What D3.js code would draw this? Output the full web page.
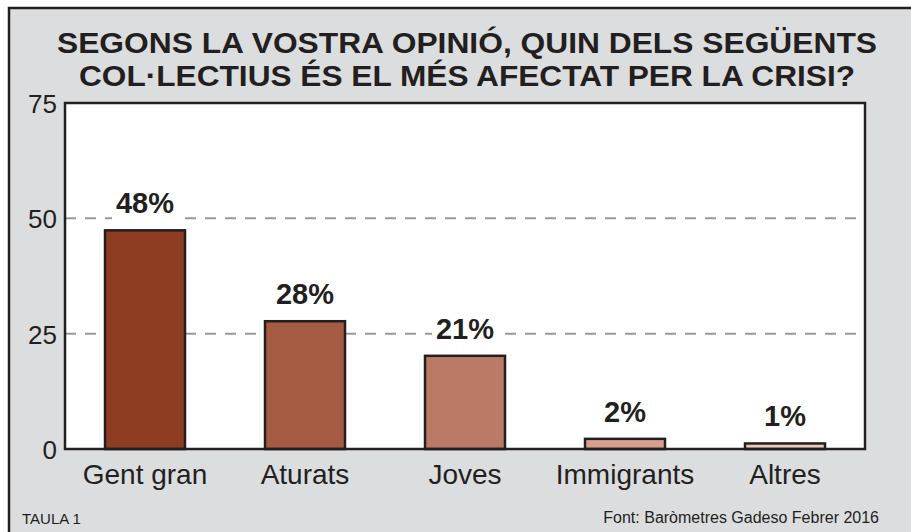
<!DOCTYPE html>
<html>
<head>
<meta charset="utf-8">
<script src="https://cdn.jsdelivr.net/npm/d3@7"></script>
<style>
  html, body { margin: 0; padding: 0; background: #fff; }
  svg { display: block; font-family: "Liberation Sans", Arial, sans-serif; }
</style>
</head>
<body>
<div id="chart"></div>
<script>
// data
const CATEGORIES = ["Gent gran", "Aturats", "Joves", "Immigrants", "Altres"]
const VALUES = [47.4, 27.7, 20.2, 2.2, 1.2]
const VALUE_LABELS = ["48%", "28%", "21%", "2%", "1%"]
const Y_TICKS = [0, 25, 50, 75]
const GRID_TICKS = [25, 50]
const COLORS = ["#8e3c22", "#a55b42", "#bb7a66", "#d6a08b", "#eccbbb"]
const TITLE = ["SEGONS LA VOSTRA OPINIÓ, QUIN DELS SEGÜENTS", "COL·LECTIUS ÉS EL MÉS AFECTAT PER LA CRISI?"]

const W = 911, H = 532
const ink = "#231f20"
const margin = { top: 103, right: 46, bottom: 83, left: 65 },
    width = W - margin.left - margin.right,
    height = H - margin.top - margin.bottom

const svg = d3.select("#chart").append("svg")
    .attr("width", W)
    .attr("height", H)

// outer frame
svg.append("rect")
    .attr("x", 9).attr("y", 8)
    .attr("width", W).attr("height", H)
    .attr("fill", "#dcdddf")
    .attr("stroke", ink)
    .attr("stroke-width", 2.5)

// title, one text block with two lines, condensed to fit like the original
const titleW = [820, 776]
svg.append("text")
    .attr("class", "title")
    .attr("text-anchor", "middle")
    .attr("font-size", 29)
    .attr("font-weight", "bold")
    .attr("fill", ink)
    .selectAll("tspan")
    .data(TITLE)
    .enter().append("tspan")
    .attr("x", 467)
    .attr("y", (d, i) => 53 + i * 32.5)
    .attr("textLength", (d, i) => titleW[i])
    .attr("lengthAdjust", "spacingAndGlyphs")
    .text(d => d)

const g = svg.append("g")
    .attr("transform", "translate(" + margin.left + "," + margin.top + ")")

const x = d3.scaleBand()
    .domain(CATEGORIES)
    .range([0, width])
    .paddingInner(0.5)
    .paddingOuter(0.25)

const y = d3.scaleLinear()
    .domain([0, 75])
    .range([height, 0])

// plot area
g.append("rect")
    .attr("width", width)
    .attr("height", height)
    .attr("fill", "#fff")

// dashed grid
g.selectAll(".grid")
    .data(GRID_TICKS)
    .enter().append("line")
    .attr("class", "grid")
    .attr("x1", 0).attr("x2", width)
    .attr("y1", d => y(d)).attr("y2", d => y(d))
    .attr("stroke", "#9d9898")
    .attr("stroke-width", 2)
    .attr("stroke-dasharray", "11,9")

// y axis labels
const yAxis = g.append("g")
    .call(d3.axisLeft(y).tickValues(Y_TICKS).tickSize(0).tickPadding(8))
yAxis.select(".domain").remove()
yAxis.selectAll("text")
    .attr("font-family", "Liberation Sans, Arial, sans-serif")
    .attr("font-size", 26)
    .attr("fill", ink)
    .attr("dy", "0.37em")

// x axis labels
const xAxis = g.append("g")
    .attr("transform", "translate(0," + height + ")")
    .call(d3.axisBottom(x).tickSize(0).tickPadding(0))
xAxis.select(".domain").remove()
xAxis.selectAll("text")
    .attr("font-family", "Liberation Sans, Arial, sans-serif")
    .attr("font-size", 28)
    .attr("fill", ink)
    .attr("dy", 35)

// bars
g.selectAll(".bar")
    .data(VALUES)
    .enter().append("rect")
    .attr("class", "bar")
    .attr("x", (d, i) => x(CATEGORIES[i]))
    .attr("y", d => y(d))
    .attr("width", x.bandwidth())
    .attr("height", d => height - y(d))
    .attr("fill", (d, i) => COLORS[i])
    .attr("stroke", ink)
    .attr("stroke-width", 2.5)

// value labels with white knockout behind them
const lab = g.selectAll(".lab")
    .data(VALUES)
    .enter().append("g")
    .attr("class", "lab")
    .attr("transform", (d, i) => "translate(" + (x(CATEGORIES[i]) + x.bandwidth() / 2) + "," + (y(d) - 17) + ")")

lab.append("text")
    .attr("text-anchor", "middle")
    .attr("font-size", 29)
    .attr("font-weight", "bold")
    .attr("fill", ink)
    .text((d, i) => VALUE_LABELS[i])

lab.each(function () {
    const t = d3.select(this).select("text")
    const b = t.node().getBBox()
    d3.select(this).insert("rect", "text")
        .attr("x", b.x - 4)
        .attr("y", b.y)
        .attr("width", b.width + 8)
        .attr("height", b.height + 4)
        .attr("fill", "#fff")
})

// plot border on top
g.append("rect")
    .attr("width", width)
    .attr("height", height)
    .attr("fill", "none")
    .attr("stroke", ink)
    .attr("stroke-width", 2.5)

// footer
svg.append("text")
    .attr("x", 22).attr("y", 524)
    .attr("font-size", 15)
    .attr("fill", ink)
    .text("TAULA 1")

svg.append("text")
    .attr("x", 879).attr("y", 523)
    .attr("text-anchor", "end")
    .attr("font-size", 16)
    .attr("fill", ink)
    .text("Font: Baròmetres Gadeso Febrer 2016")
</script>
</body>
</html>
